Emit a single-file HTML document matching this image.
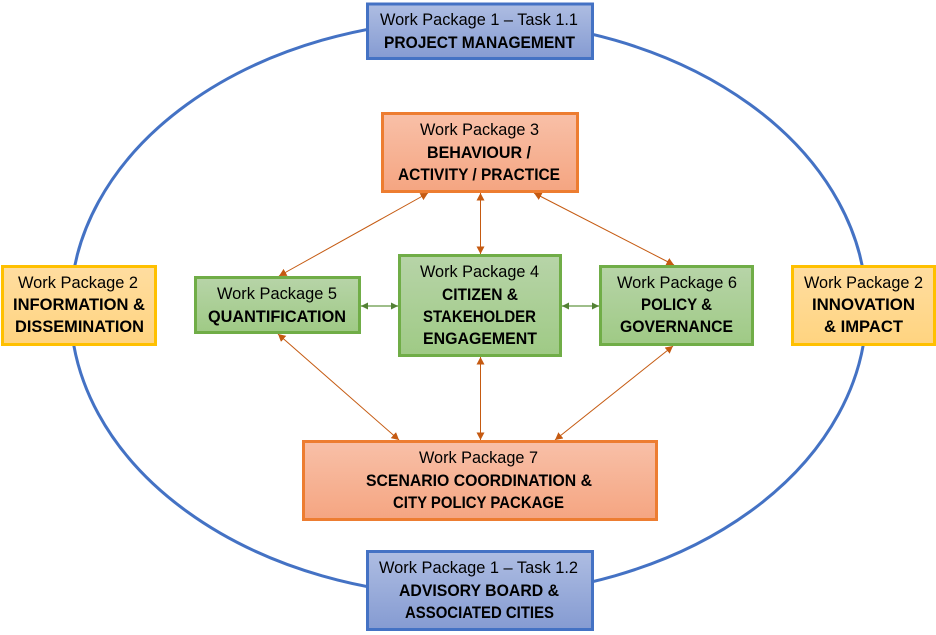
<!DOCTYPE html>
<html>
<head>
<meta charset="utf-8">
<style>
html,body{margin:0;padding:0;background:#fff;width:936px;height:635px;overflow:hidden}
svg{display:block}
text{font-family:"Liberation Sans",sans-serif;font-size:16.5px;fill:#000}
text.b{font-weight:bold;font-size:16.5px}
</style>
</head>
<body>
<svg width="936" height="635" viewBox="0 0 936 635" xmlns="http://www.w3.org/2000/svg">
<defs>
<linearGradient id="gb" x1="0" y1="0" x2="0" y2="1"><stop offset="0" stop-color="#AEBDE2"/><stop offset="1" stop-color="#859BD2"/></linearGradient>
<linearGradient id="go" x1="0" y1="0" x2="0" y2="1"><stop offset="0" stop-color="#F8C0A8"/><stop offset="1" stop-color="#F5A581"/></linearGradient>
<linearGradient id="gg" x1="0" y1="0" x2="0" y2="1"><stop offset="0" stop-color="#B7D4A8"/><stop offset="1" stop-color="#9FCA85"/></linearGradient>
<linearGradient id="gy" x1="0" y1="0" x2="0" y2="1"><stop offset="0" stop-color="#FFDDA0"/><stop offset="1" stop-color="#FFD480"/></linearGradient>
<marker id="mo" markerUnits="userSpaceOnUse" markerWidth="9" markerHeight="9" refX="7.5" refY="4" orient="auto-start-reverse"><path d="M0,0 L7.5,4 L0,8 Z" fill="#C55A11"/></marker>
<marker id="mg" markerUnits="userSpaceOnUse" markerWidth="8" markerHeight="8" refX="7" refY="3.5" orient="auto-start-reverse"><path d="M0,0 L7,3.5 L0,7 Z" fill="#548235"/></marker>
</defs>

<ellipse cx="468.5" cy="308" rx="398" ry="288" fill="none" stroke="#4472C4" stroke-width="3"/>

<g fill="none" stroke="#C55A11" stroke-width="1" marker-start="url(#mo)" marker-end="url(#mo)">
<line x1="428" y1="193" x2="279" y2="276"/>
<line x1="480.5" y1="193" x2="480.5" y2="254"/>
<line x1="534" y1="193" x2="674" y2="265"/>
<line x1="278" y1="334" x2="399" y2="440"/>
<line x1="480.5" y1="357" x2="480.5" y2="440"/>
<line x1="673" y1="346" x2="555" y2="440"/>
</g>
<g fill="none" stroke="#7FA863" stroke-width="1.4" marker-start="url(#mg)" marker-end="url(#mg)">
<line x1="361" y1="306" x2="398" y2="306"/>
<line x1="562" y1="306" x2="599" y2="306"/>
</g>

<g stroke-width="3">
<rect x="367.5" y="4" width="225" height="54.5" fill="url(#gb)" stroke="#4472C4"/>
<rect x="367.5" y="551.5" width="225" height="78" fill="url(#gb)" stroke="#4472C4"/>
<rect x="382.5" y="113.5" width="195" height="78" fill="url(#go)" stroke="#ED7D31"/>
<rect x="303.5" y="441.5" width="353" height="78" fill="url(#go)" stroke="#ED7D31"/>
<rect x="195.5" y="277.5" width="164" height="55" fill="url(#gg)" stroke="#70AD47"/>
<rect x="399.5" y="255.5" width="161" height="100" fill="url(#gg)" stroke="#70AD47"/>
<rect x="600.5" y="266.5" width="152" height="78" fill="url(#gg)" stroke="#70AD47"/>
<rect x="2.5" y="266.5" width="153" height="78" fill="url(#gy)" stroke="#FFC000"/>
<rect x="792.5" y="266.5" width="142" height="78" fill="url(#gy)" stroke="#FFC000"/>
</g>

<g>
<text x="380" y="25" textLength="198" lengthAdjust="spacingAndGlyphs">Work Package 1 – Task 1.1</text>
<text class="b" x="384" y="48" textLength="191" lengthAdjust="spacingAndGlyphs">PROJECT MANAGEMENT</text>

<text x="420" y="135" textLength="119" lengthAdjust="spacingAndGlyphs">Work Package 3</text>
<text class="b" x="427" y="158" textLength="104" lengthAdjust="spacingAndGlyphs">BEHAVIOUR /</text>
<text class="b" x="398" y="180" textLength="162" lengthAdjust="spacingAndGlyphs">ACTIVITY / PRACTICE</text>

<text x="217" y="299" textLength="120" lengthAdjust="spacingAndGlyphs">Work Package 5</text>
<text class="b" x="208" y="322" textLength="138" lengthAdjust="spacingAndGlyphs">QUANTIFICATION</text>

<text x="420" y="277" textLength="119" lengthAdjust="spacingAndGlyphs">Work Package 4</text>
<text class="b" x="442" y="300" textLength="76" lengthAdjust="spacingAndGlyphs">CITIZEN &amp;</text>
<text class="b" x="423" y="322" textLength="113" lengthAdjust="spacingAndGlyphs">STAKEHOLDER</text>
<text class="b" x="423" y="344" textLength="114" lengthAdjust="spacingAndGlyphs">ENGAGEMENT</text>

<text x="617" y="288" textLength="120" lengthAdjust="spacingAndGlyphs">Work Package 6</text>
<text class="b" x="641" y="310" textLength="71" lengthAdjust="spacingAndGlyphs">POLICY &amp;</text>
<text class="b" x="620" y="332" textLength="113" lengthAdjust="spacingAndGlyphs">GOVERNANCE</text>

<text x="18" y="288" textLength="120" lengthAdjust="spacingAndGlyphs">Work Package 2</text>
<text class="b" x="13" y="310" textLength="132" lengthAdjust="spacingAndGlyphs">INFORMATION &amp;</text>
<text class="b" x="15" y="332" textLength="129" lengthAdjust="spacingAndGlyphs">DISSEMINATION</text>

<text x="804" y="288" textLength="119" lengthAdjust="spacingAndGlyphs">Work Package 2</text>
<text class="b" x="812" y="310" textLength="103" lengthAdjust="spacingAndGlyphs">INNOVATION</text>
<text class="b" x="824" y="332" textLength="79" lengthAdjust="spacingAndGlyphs">&amp; IMPACT</text>

<text x="419" y="463" textLength="119" lengthAdjust="spacingAndGlyphs">Work Package 7</text>
<text class="b" x="366" y="486" textLength="226" lengthAdjust="spacingAndGlyphs">SCENARIO COORDINATION &amp;</text>
<text class="b" x="393" y="508" textLength="171" lengthAdjust="spacingAndGlyphs">CITY POLICY PACKAGE</text>

<text x="379" y="573" textLength="199" lengthAdjust="spacingAndGlyphs">Work Package 1 – Task 1.2</text>
<text class="b" x="399" y="596" textLength="160" lengthAdjust="spacingAndGlyphs">ADVISORY BOARD &amp;</text>
<text class="b" x="405" y="618" textLength="149" lengthAdjust="spacingAndGlyphs">ASSOCIATED CITIES</text>
</g>
</svg>
</body>
</html>
